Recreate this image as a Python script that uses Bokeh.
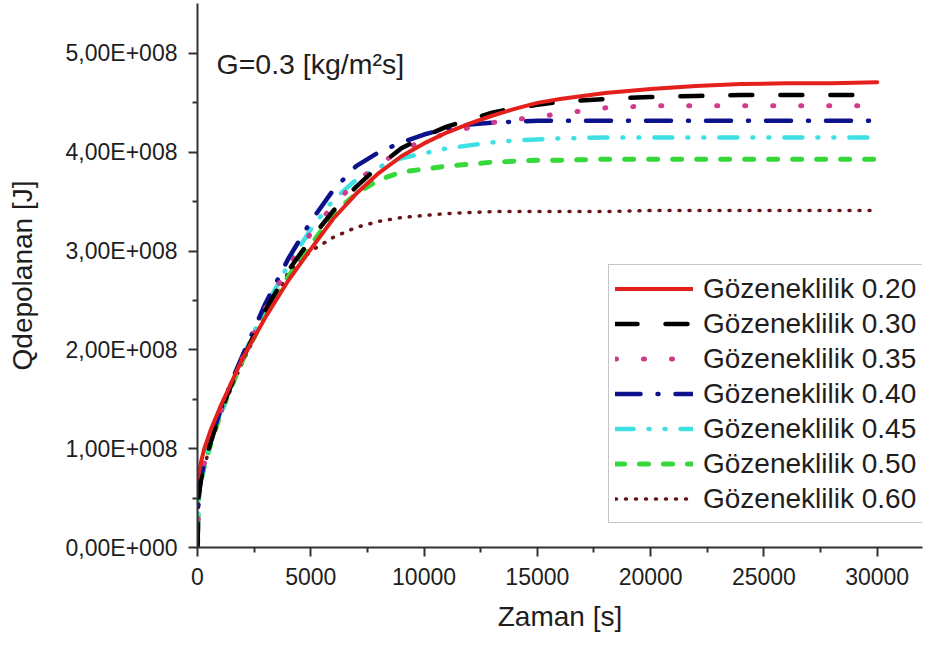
from bokeh.plotting import figure
from bokeh.models import FixedTicker, Legend, LegendItem, Label, Range1d
from bokeh.embed import file_html
from bokeh.resources import INLINE

# ---- data (time in s, stored energy in J) ----
t = [0, 50, 150, 300, 600, 1000, 1500, 2000, 3000, 4000, 5000, 6000, 7000, 8000, 9000,
     10000, 11000, 12000, 13000, 14000, 15000, 16000, 18000, 20000, 22000, 24000,
     26000, 28000, 30000]

q_020 = [0.70e8, 0.74e8, 0.86e8, 1.00e8, 1.20e8, 1.42e8, 1.67e8, 1.92e8, 2.33e8, 2.70e8, 3.02e8,
         3.33e8, 3.58e8, 3.79e8, 3.96e8, 4.09e8, 4.20e8, 4.29e8, 4.37e8, 4.44e8, 4.50e8,
         4.54e8, 4.60e8, 4.64e8, 4.67e8, 4.69e8, 4.70e8, 4.70e8, 4.71e8]
q_030 = [0, 0.52e8, 0.68e8, 0.84e8, 1.08e8, 1.36e8, 1.65e8, 1.91e8, 2.40e8, 2.80e8, 3.12e8,
         3.41e8, 3.65e8, 3.86e8, 4.04e8, 4.16e8, 4.26e8, 4.33e8, 4.40e8, 4.45e8, 4.48e8,
         4.51e8, 4.54e8, 4.56e8, 4.57e8, 4.58e8, 4.58e8, 4.58e8, 4.58e8]
q_035 = [0, 0.52e8, 0.69e8, 0.85e8, 1.09e8, 1.37e8, 1.66e8, 1.92e8, 2.42e8, 2.84e8, 3.18e8,
         3.47e8, 3.70e8, 3.88e8, 4.02e8, 4.12e8, 4.19e8, 4.25e8, 4.30e8, 4.33e8, 4.36e8,
         4.39e8, 4.45e8, 4.47e8, 4.47e8, 4.47e8, 4.47e8, 4.47e8, 4.47e8]
q_040 = [0, 0.52e8, 0.70e8, 0.86e8, 1.10e8, 1.38e8, 1.68e8, 1.95e8, 2.47e8, 2.92e8, 3.30e8,
         3.62e8, 3.86e8, 4.00e8, 4.10e8, 4.18e8, 4.24e8, 4.28e8, 4.30e8, 4.31e8, 4.32e8,
         4.32e8, 4.32e8, 4.32e8, 4.32e8, 4.32e8, 4.32e8, 4.32e8, 4.32e8]
q_045 = [0, 0.52e8, 0.68e8, 0.84e8, 1.08e8, 1.36e8, 1.66e8, 1.93e8, 2.43e8, 2.86e8, 3.22e8,
         3.52e8, 3.72e8, 3.85e8, 3.94e8, 3.99e8, 4.04e8, 4.07e8, 4.10e8, 4.12e8, 4.13e8,
         4.14e8, 4.15e8, 4.15e8, 4.15e8, 4.15e8, 4.15e8, 4.15e8, 4.15e8]
q_050 = [0, 0.50e8, 0.66e8, 0.82e8, 1.06e8, 1.34e8, 1.63e8, 1.90e8, 2.36e8, 2.74e8, 3.06e8,
         3.38e8, 3.58e8, 3.72e8, 3.80e8, 3.83e8, 3.86e8, 3.88e8, 3.90e8, 3.91e8, 3.92e8,
         3.92e8, 3.93e8, 3.93e8, 3.93e8, 3.93e8, 3.93e8, 3.93e8, 3.93e8]
q_060 = [0, 0.50e8, 0.66e8, 0.82e8, 1.06e8, 1.33e8, 1.62e8, 1.88e8, 2.35e8, 2.78e8, 3.00e8,
         3.14e8, 3.24e8, 3.30e8, 3.34e8, 3.36e8, 3.38e8, 3.39e8, 3.40e8, 3.40e8, 3.40e8,
         3.40e8, 3.40e8, 3.41e8, 3.41e8, 3.41e8, 3.41e8, 3.41e8, 3.41e8]

series_labels = ["Gözeneklilik 0.20", "Gözeneklilik 0.30", "Gözeneklilik 0.35",
                 "Gözeneklilik 0.40", "Gözeneklilik 0.45", "Gözeneklilik 0.50",
                 "Gözeneklilik 0.60"]
series_values = [q_020, q_030, q_035, q_040, q_045, q_050, q_060]

x_ticks = [0, 5000, 10000, 15000, 20000, 25000, 30000]
x_minor = [2500, 7500, 12500, 17500, 22500, 27500]
y_ticks = [0, 1e8, 2e8, 3e8, 4e8, 5e8]
y_minor = [0.5e8, 1.5e8, 2.5e8, 3.5e8, 4.5e8]
y_tick_labels = ["0,00E+000", "1,00E+008", "2,00E+008", "3,00E+008", "4,00E+008", "5,00E+008"]

# ---- styles ----
styles = [
    dict(color="#e3201c", width=4.0, dash="solid", cap="round"),
    dict(color="#000000", width=4.5, dash="22 28", cap="round"),
    dict(color="#d23a8c", width=5.0, dash="1 27", cap="round"),
    dict(color="#0c128c", width=4.5, dash="25 17 1 17", cap="round"),
    dict(color="#3fe0e4", width=4.5, dash="18 15 1 15 1 15", cap="round"),
    dict(color="#36d83a", width=5.0, dash="9 15", cap="round"),
    dict(color="#6a1216", width=3.5, dash="1 9", cap="round"),
]

FONT = "Liberation Sans"
TXT = "#1e1e1e"

p = figure(width=930, height=645, output_backend="svg", toolbar_location=None,
           x_range=Range1d(0, 32000), y_range=Range1d(0, 5.506e8),
           min_border_left=197, min_border_right=8, min_border_top=3,
           min_border_bottom=98)
p.xgrid.visible = False
p.ygrid.visible = False
p.outline_line_color = None
p.background_fill_color = "white"
p.border_fill_color = "white"

draw_order = [6, 5, 4, 3, 2, 1, 0]
rmap = {}
for i in draw_order:
    s = styles[i]
    r = p.line(t, series_values[i], line_color=s["color"], line_width=s["width"],
               line_dash=s["dash"], line_cap=s["cap"], line_join="round")
    rmap[i] = r

# axes
for ax in (p.xaxis[0], p.yaxis[0]):
    ax.axis_line_color = "#333333"
    ax.axis_line_width = 2
    ax.major_tick_line_color = "#333333"
    ax.major_tick_line_width = 2
    ax.minor_tick_line_color = "#333333"
    ax.minor_tick_line_width = 2
    ax.major_tick_in = 0
    ax.major_tick_out = 9
    ax.minor_tick_in = 0
    ax.minor_tick_out = 5
    ax.major_label_text_font = FONT
    ax.major_label_text_font_size = "23px"
    ax.major_label_text_color = TXT
    ax.axis_label_text_font = FONT
    ax.axis_label_text_font_size = "28px"
    ax.axis_label_text_font_style = "normal"
    ax.axis_label_text_color = TXT

p.xaxis.ticker = FixedTicker(ticks=x_ticks, minor_ticks=x_minor)
p.yaxis.ticker = FixedTicker(ticks=y_ticks, minor_ticks=y_minor)
p.yaxis.major_label_overrides = {v: lab for v, lab in zip(y_ticks, y_tick_labels)}
p.xaxis.major_label_standoff = 11
p.yaxis.major_label_standoff = 11
p.xaxis.axis_label = "Zaman [s]"
p.yaxis.axis_label = "Qdepolanan [J]"
p.xaxis.axis_label_standoff = 13
p.yaxis.axis_label_standoff = 25

# legend
items = [LegendItem(label=series_labels[i], renderers=[rmap[i]]) for i in range(7)]
legend = Legend(items=items, location=(411, 24), orientation="vertical",
                label_text_font=FONT, label_text_font_size="28px",
                label_text_color=TXT, glyph_width=78, glyph_height=35,
                label_height=35, spacing=0, padding=6, margin=0,
                label_standoff=10, border_line_color="#8c8c8c",
                border_line_width=1, background_fill_color="white",
                background_fill_alpha=1.0)
p.add_layout(legend)

p.add_layout(Label(x=19, y=484, x_units="screen", y_units="screen",
                   text="G=0.3 [kg/m²s]", text_font=FONT, text_font_size="28.5px",
                   text_color=TXT, text_baseline="alphabetic"))

open("out.html", "w").write(file_html(p, INLINE))
